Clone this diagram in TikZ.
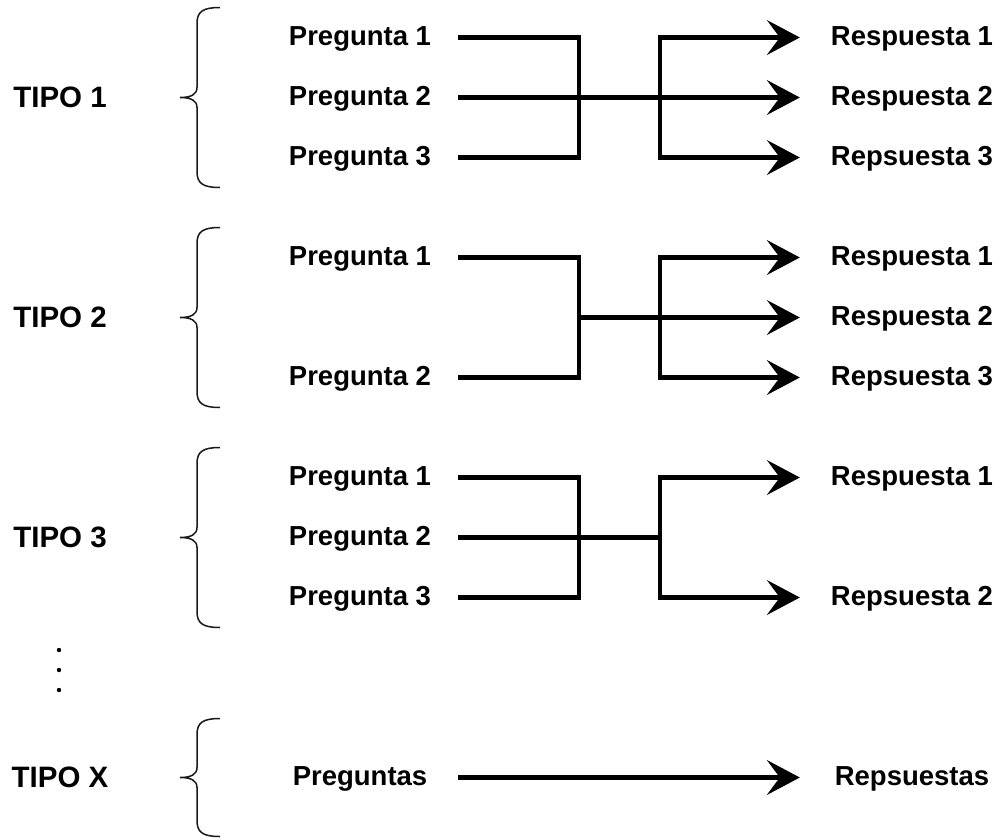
\documentclass[tikz,border=0pt]{standalone}
\usepackage{fontspec}
\setmainfont{Liberation Sans}
\usetikzlibrary{arrows.meta}
\begin{document}
\begin{tikzpicture}[x=1pt,y=-1pt,
  tipo/.style={font=\fontsize{29.5}{34}\selectfont\bfseries, inner sep=0pt, anchor=base},
  preg/.style={font=\fontsize{27.5}{33}\selectfont\bfseries, inner sep=0pt, minimum width=196pt, anchor=base},
  resp/.style={font=\fontsize{27.5}{33}\selectfont\bfseries, inner sep=0pt, minimum width=224pt, anchor=base},
  wire/.style={line width=4.5pt, line join=miter},
  flow/.style={wire, -{Stealth[length=33pt,width=35pt,inset=13pt,line width=1pt]}},
  twoflow/.style={wire, {Stealth[length=33pt,width=35pt,inset=13pt,line width=1pt]}-{Stealth[length=33pt,width=35pt,inset=13pt,line width=1pt]}},
  brace/.style={line width=1.5pt, draw=black!90},
  pics/curly/.style={code={
    \draw[brace] (23,-#1) .. controls (6,-#1) and (0,-#1+4) .. (0,-#1+16)
      -- (0,-10) .. controls (0,-3) and (-6,0) .. (-17,0)
      .. controls (-6,0) and (0,3) .. (0,10)
      -- (0,#1-16) .. controls (0,#1-4) and (6,#1) .. (23,#1);
  }}
]
\useasboundingbox (0,0) rectangle (1005,839);

% ---------- TIPO 1 ----------
\node[tipo] (t1) at (60,107.5) {TIPO 1};
\pic at (197,97.5) {curly=90};
\node[preg] (p11) at (360,45.5) {Pregunta 1};
\node[preg] (p12) at (360,105.5) {Pregunta 2};
\node[preg] (p13) at (360,165.5) {Pregunta 3};
\node[resp] (r11) at (912,45.5) {Respuesta 1};
\node[resp] (r12) at (912,105.5) {Respuesta 2};
\node[resp] (r13) at (912,165.5) {Repsuesta 3};
\coordinate (l1) at (579,97.5);
\coordinate (m1) at (660,97.5);
\draw[wire] (p11.east |- 0,37.5) -| (l1) |- (p13.east |- 0,157.5);
\draw[flow] (p12.east |- 0,97.5) -- (r12.west |- 0,97.5);
\draw[twoflow] (r11.west |- 0,37.5) -| (m1) |- (r13.west |- 0,157.5);

% ---------- TIPO 2 ----------
\node[tipo] (t2) at (60,327.5) {TIPO 2};
\pic at (197,317.5) {curly=90};
\node[preg] (p21) at (360,265.5) {Pregunta 1};
\node[preg] (p22) at (360,385.5) {Pregunta 2};
\node[resp] (r21) at (912,265.5) {Respuesta 1};
\node[resp] (r22) at (912,325.5) {Respuesta 2};
\node[resp] (r23) at (912,385.5) {Repsuesta 3};
\coordinate (l2) at (579,317.5);
\coordinate (m2) at (660,317.5);
\draw[wire] (p21.east |- 0,257.5) -| (l2) |- (p22.east |- 0,377.5);
\draw[flow] (l2) -- (r22.west |- 0,317.5);
\draw[twoflow] (r21.west |- 0,257.5) -| (m2) |- (r23.west |- 0,377.5);

% ---------- TIPO 3 ----------
\node[tipo] (t3) at (60,547.5) {TIPO 3};
\pic at (197,537.5) {curly=90};
\node[preg] (p31) at (360,485.5) {Pregunta 1};
\node[preg] (p32) at (360,545.5) {Pregunta 2};
\node[preg] (p33) at (360,605.5) {Pregunta 3};
\node[resp] (r31) at (912,485.5) {Respuesta 1};
\node[resp] (r32) at (912,605.5) {Repsuesta 2};
\coordinate (l3) at (579,537.5);
\coordinate (m3) at (660,537.5);
\draw[wire] (p31.east |- 0,477.5) -| (l3) |- (p33.east |- 0,597.5);
\draw[wire] (p32.east |- 0,537.5) -- (m3);
\draw[twoflow] (r31.west |- 0,477.5) -| (m3) |- (r32.west |- 0,597.5);

% ---------- ellipsis ----------
\foreach \yy in {650,670,690} \fill (59,\yy) circle (2.2);

% ---------- TIPO X ----------
\node[tipo] (tx) at (60,787.5) {TIPO X};
\pic at (197,777.5) {curly=59};
\node[preg] (px) at (360,785.5) {Preguntas};
\node[resp] (rx) at (912,785.5) {Repsuestas};
\draw[flow] (px.east |- 0,777.5) -- (rx.west |- 0,777.5);
\end{tikzpicture}
\end{document}
